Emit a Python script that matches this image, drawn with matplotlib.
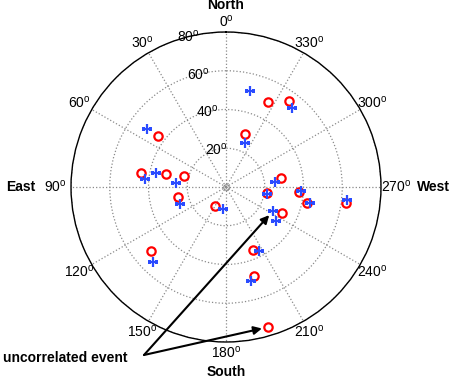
import numpy as np
import matplotlib
matplotlib.use('Agg')
from matplotlib import pyplot as plt

plt.rcParams['font.family'] = ['Liberation Sans', 'DejaVu Sans']
plt.rcParams['mathtext.fontset'] = 'custom'
plt.rcParams['mathtext.rm'] = 'Liberation Sans'
plt.rcParams['font.size'] = 10

# direction (deg, ccw from North) and zenith-ish distance (deg)
red_theta = [333.7, 323.8, 53.1, 340.3, 80.6, 77.8, 75.3, 101.8, 150.1, 279.3,
             261.7, 266.1, 258.8, 245.1, 203.2, 130.5, 197.5, 262.4, 196.7]
red_r = [48.9, 55.0, 43.9, 29.1, 44.5, 31.7, 22.4, 25.3, 11.3, 28.8,
         21.4, 37.8, 42.6, 31.9, 35.4, 50.9, 48.2, 62.5, 75.5]

blue_theta = [346.0, 320.1, 53.7, 336.6, 84.4, 78.7, 85.4, 110.3, 172.2, 275.8,
              260.3, 266.9, 259.2, 242.9, 235.8, 207.3, 135.8, 194.9, 263.9]
blue_r = [51.1, 53.1, 50.6, 24.7, 42.0, 36.8, 25.9, 25.3, 11.5, 25.4,
          21.5, 38.8, 44.1, 27.2, 31.2, 37.2, 54.0, 50.2, 62.8]

ang_ticks = list(range(0, 360, 30))
r_ticks = [20, 40, 60, 80]
compass = {'North': (0, 94), 'East': (90, 106), 'South': (180, 95.5), 'West': (270, 107)}

fig = plt.figure(figsize=(4.52, 3.81), dpi=100)
ax = fig.add_axes([71/452, 39/381, 310/452, 310/381], projection='polar')
ax.set_theta_zero_location('N')
ax.set_theta_direction(1)
ax.set_rlim(0, 80)
ax.set_thetagrids(ang_ticks, labels=['']*len(ang_ticks))
ax.set_rgrids(r_ticks, labels=['']*len(r_ticks))
ax.grid(True, color='#8a8a8a', linestyle=':', linewidth=0.9)
ax.spines['polar'].set_color('black')
ax.spines['polar'].set_linewidth(1.0)

for a in ang_ticks:
    t = np.deg2rad(a)
    # labels sit a bit closer above/below than left/right
    rl = 1.0 / np.sqrt((np.sin(t)/88.0)**2 + (np.cos(t)/85.5)**2)
    ax.text(t, rl, '%d$^{\\mathrm{o}}$' % a, ha='center', va='center',
            fontsize=10, clip_on=False)
for rr in r_ticks:
    ax.text(np.deg2rad(14), rr, '%d$^{\\mathrm{o}}$' % rr, ha='center', va='center',
            fontsize=10, clip_on=False)
for name, (a, rr) in compass.items():
    ax.text(np.deg2rad(a), rr, name, ha='center', va='center', fontsize=10,
            fontweight='bold', clip_on=False)

ax.plot([0], [0], 'o', mfc='none', mec='#8a8a8a', ms=4, mew=0.8)

ax.plot(np.deg2rad(red_theta), red_r, 'o', mfc='none', mec='#ff0000', ms=6, mew=1.6,
        linestyle='none')
ax.plot(np.deg2rad(blue_theta), blue_r, '+', color='#2a4bff', ms=6.5, mew=1.6,
        linestyle='none')

start = (144/452, 26/381)
fig.text(3/452, 1 - 358/381, 'uncorrelated event', ha='left', va='center',
         fontsize=10, fontweight='bold')
for i, (th, rr) in enumerate([(blue_theta[13], blue_r[13]), (red_theta[18], red_r[18])]):
    ax.annotate('', xy=(np.deg2rad(th), rr), xytext=start, textcoords='figure fraction',
                arrowprops=dict(arrowstyle='-|>', color='black', lw=1.5,
                                mutation_scale=12, shrinkA=0, shrinkB=4 if i == 0 else 4.5),
                annotation_clip=False)

plt.savefig('out.png', dpi=100)
